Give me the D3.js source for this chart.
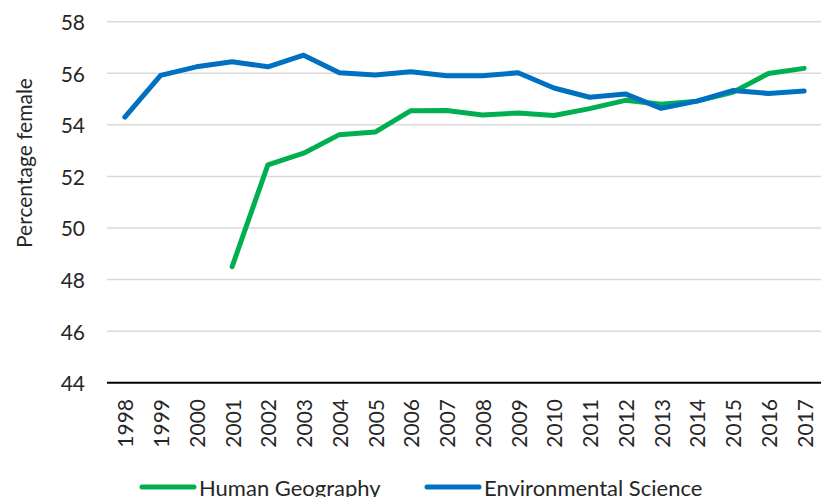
<!DOCTYPE html>
<html>
<head>
<meta charset="utf-8">
<script src="https://cdn.jsdelivr.net/npm/d3@7"></script>
<style>
  body { margin: 0; background: #fff; }
  text { font-family: Lato, "Open Sans", sans-serif; fill: #262626; }
</style>
</head>
<body>
<script>
var years = ['1998', '1999', '2000', '2001', '2002', '2003', '2004', '2005', '2006', '2007',
  '2008', '2009', '2010', '2011', '2012', '2013', '2014', '2015', '2016', '2017'];

// null = no data for that year
var humanGeography = [null, null, null, 48.5, 52.45, 52.9, 53.62, 53.72, 54.55, 54.56,
  54.38, 54.46, 54.36, 54.63, 54.95, 54.8, 54.92, 55.26, 55.99, 56.19];

var environmentalScience = [54.3, 55.92, 56.25, 56.45, 56.25, 56.7, 56.02, 55.93, 56.06, 55.9,
  55.9, 56.02, 55.43, 55.07, 55.2, 54.64, 54.92, 55.33, 55.22, 55.31];

var yTicks = [44, 46, 48, 50, 52, 54, 56, 58];

var series = [
  { name: 'Human Geography', values: humanGeography, color: '#00b050' },
  { name: 'Environmental Science', values: environmentalScience, color: '#0070c0' }
];

var width = 821,
  height = 497;

var svg = d3
  .select('body')
  .append('svg')
  .attr('width', width)
  .attr('height', height);

var x = d3.scalePoint().domain(years).range([107, 822]).padding(0.5);
var y = d3.scaleLinear().domain([44, 58]).range([382.7, 21.7]);

// gridlines
svg
  .selectAll('line.grid')
  .data(yTicks.slice(1))
  .enter()
  .append('line')
  .attr('class', 'grid')
  .attr('x1', 107)
  .attr('x2', 821)
  .attr('y1', function(d) { return y(d); })
  .attr('y2', function(d) { return y(d); })
  .attr('stroke', '#d9d9d9')
  .attr('stroke-width', 1.5);

// y tick labels
svg
  .selectAll('text.ytick')
  .data(yTicks)
  .enter()
  .append('text')
  .attr('class', 'ytick')
  .attr('x', 85)
  .attr('y', function(d) { return y(d); })
  .attr('text-anchor', 'end')
  .attr('dominant-baseline', 'central')
  .style('font-size', '21px')
  .text(function(d) { return d; });

// x axis line
svg
  .append('line')
  .attr('x1', 107)
  .attr('x2', 821)
  .attr('y1', y(44))
  .attr('y2', y(44))
  .attr('stroke', '#000')
  .attr('stroke-width', 2);

// year labels, rotated
svg
  .selectAll('text.xtick')
  .data(years)
  .enter()
  .append('text')
  .attr('class', 'xtick')
  .attr('transform', function(d) {
    return 'translate(' + x(d) + ',399) rotate(-90)';
  })
  .attr('text-anchor', 'end')
  .attr('dominant-baseline', 'central')
  .style('font-size', '21px')
  .text(function(d) { return d; });

// axis title
svg
  .append('text')
  .attr('transform', 'translate(23,163) rotate(-90)')
  .attr('text-anchor', 'middle')
  .attr('dominant-baseline', 'central')
  .style('font-size', '21px')
  .text('Percentage female');

var line = d3
  .line()
  .defined(function(d) { return d != null; })
  .x(function(d, i) { return x(years[i]); })
  .y(function(d) { return y(d); });

svg
  .selectAll('path.series')
  .data(series)
  .enter()
  .append('path')
  .attr('class', 'series')
  .attr('d', function(d) { return line(d.values); })
  .attr('fill', 'none')
  .attr('stroke', function(d) { return d.color; })
  .attr('stroke-width', 5)
  .attr('stroke-linejoin', 'round')
  .attr('stroke-linecap', 'round');

// legend
var legendX = [142, 427];
var legend = svg
  .selectAll('g.legend')
  .data(series)
  .enter()
  .append('g')
  .attr('class', 'legend')
  .attr('transform', function(d, i) {
    return 'translate(' + legendX[i] + ',487)';
  });

legend
  .append('line')
  .attr('x1', 0)
  .attr('x2', 52)
  .attr('stroke', function(d) { return d.color; })
  .attr('stroke-width', 5)
  .attr('stroke-linecap', 'round');

legend
  .append('text')
  .attr('x', 57)
  .attr('dominant-baseline', 'central')
  .style('font-size', '22px')
  .text(function(d) { return d.name; });
</script>
</body>
</html>
